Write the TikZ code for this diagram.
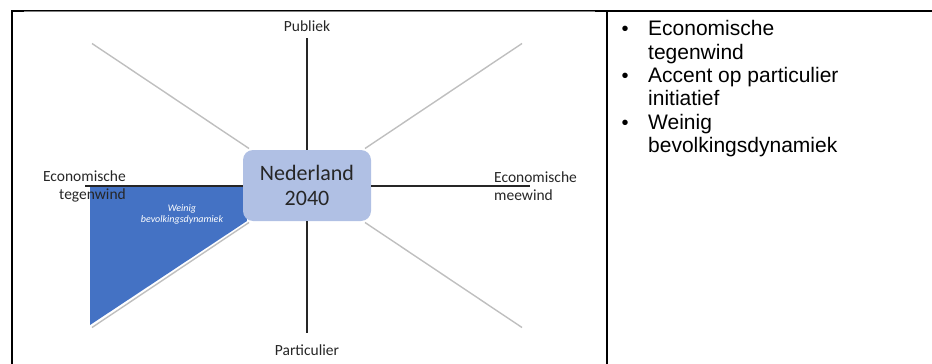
\documentclass[tikz,border=0pt]{standalone}
\usepackage{fontspec}
\setmainfont{Liberation Sans}
\newfontfamily\calib{Carlito}
\usetikzlibrary{calc,positioning}
\definecolor{spokegrey}{RGB}{191,191,191}
\definecolor{axisdark}{RGB}{38,38,38}
\definecolor{sectorblue}{RGB}{68,114,196}
\definecolor{centrefill}{RGB}{176,192,228}

\begin{document}
\begin{tikzpicture}[x=1pt,y=-1pt,
    axis line/.style={draw=axisdark,line width=2pt},
    spoke line/.style={draw=spokegrey,line width=1.4pt},
    pole/.style={font=\calib\fontsize{15.5}{18}\selectfont,text=axisdark,inner sep=0pt},
    bullet item/.style={font=\fontsize{21}{23}\selectfont,anchor=west,inner sep=0pt,
      text height=15pt,text depth=4pt}]
    \useasboundingbox (0,0) rectangle (932,364);
    % table rules
    \draw[line width=2pt] (12,364) -- (12,11) -- (932,11);
    \draw[line width=2pt] (607,11) -- (607,364);
    \draw[gray,line width=1pt] (24,11) -- (595,11);
    % blue sector
    \fill[sectorblue] (90,187) -- (245,187) -- (247,221) -- (90,325) -- cycle;
    \node[fill=centrefill,rounded corners=10pt,minimum width=128pt,minimum height=71pt,
      font=\calib\fontsize{22}{25}\selectfont,text=axisdark,align=center] (NL) at (307,185.5) {Nederland\\2040};
    % diagonal spokes
    \foreach \sx/\sy [count=\k] in {-1/-1,1/-1,1/1,-1/1}
     {\coordinate (I-\k) at ($(NL.center)+(\sx*58,\sy*37)$);
      \coordinate (O-\k) at ($(NL.center)+(\sx*215,\sy*142)$);
      \draw[spoke line] (I-\k) -- (O-\k);}
    % axes
    \coordinate (N) at (307,38);
    \coordinate (S) at (307,333);
    \coordinate (W) at (85,186);
    \coordinate (E) at (530,186);
    \draw[axis line] (NL.north) -- (N);
    \draw[axis line] (NL.south) -- (S);
    \draw[axis line] (NL.west |- W) -- (W);
    \draw[axis line] (NL.east |- E) -- (E);
    \node[pole] (pub) at (307,26) {Publiek};
    \node[pole] (part) at (307,350) {Particulier};
    \node[pole,anchor=east,align=right] (tegen) at (126,186) {Economische\\tegenwind};
    \node[pole,anchor=west,align=left] (mee) at (494,186) {Economische\\meewind};
    \node[font=\calib\itshape\fontsize{10}{11}\selectfont,text=white,align=center,inner sep=0pt] (weinig) at (182,214) {Weinig\\bevolkingsdynamiek};
    % bullet list
    \foreach \T [count=\Y] in {Economische,tegenwind,Accent op particulier,initiatief,Weinig,bevolkingsdynamiek}
      \node[bullet item] (L-\Y) at (648,{6.8+23.4*\Y}) {\T};
    \foreach \Y in {1,3,5}
      \node[anchor=base,inner sep=0pt,font=\fontsize{20}{23}\selectfont] (B-\Y) at ([xshift=-23pt]L-\Y.base west) {\textbullet};
\end{tikzpicture}
\end{document}
